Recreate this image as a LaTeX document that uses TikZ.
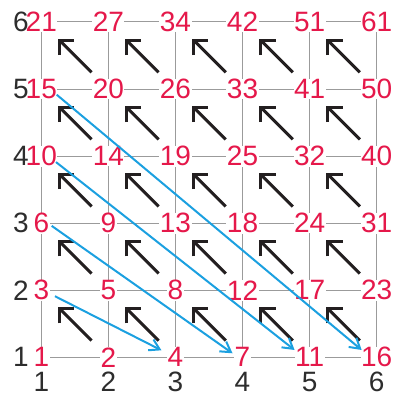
\documentclass[tikz,border=0pt]{standalone}
\usepackage{fontspec}
\setmainfont{Liberation Sans}
\usetikzlibrary{arrows.meta,calc}
\definecolor{numred}{RGB}{229,24,74}
\definecolor{arrowblue}{RGB}{27,160,224}
\definecolor{gridgray}{RGB}{155,155,155}
\definecolor{axisgray}{RGB}{45,45,45}
\definecolor{arrowblack}{RGB}{35,31,32}
\begin{document}
\begin{tikzpicture}[x=1pt,y=1pt,
  gridline/.style={draw=gridgray,line width=1pt},
  val/.style={text=numred,fill=white,inner sep=0.5pt,font=\fontsize{28}{28}\selectfont},
  axislabel/.style={text=axisgray,inner sep=0pt,font=\fontsize{28}{28}\selectfont},
  diagarrow/.style={draw=arrowblack,line width=3pt,-{Straight Barb[length=10.5pt,width=21pt]}},
  bluearrow/.style={draw=arrowblue,line width=2pt,-{Straight Barb[length=10pt,width=12pt]}}]
\useasboundingbox (0,0) rectangle (395,394);
\foreach \i in {1,...,6} {
  \foreach \j in {1,...,6} {
    \coordinate (p-\i-\j) at ({41.3+67.07*(\i-1)},{36.7+67.07*(\j-1)});
  }
}
% grid
\foreach \i in {1,...,6} {
  \draw[gridline] (p-\i-1) -- (p-\i-6);
  \draw[gridline] (p-1-\i) -- (p-6-\i);
}
% black diagonal arrows
\foreach \i in {1,...,5} {
  \foreach \j in {1,...,5} {
    \coordinate (t-\i-\j) at ($(p-\i-\j)+(50.3,16.7)$);
    \coordinate (h-\i-\j) at ($(p-\i-\j)+(16.7,50.3)$);
    \draw[diagarrow] (t-\i-\j) -- (h-\i-\j);
  }
}
% values
\foreach \i/\j/\v in {1/1/1,2/1/2,3/1/4,4/1/7,5/1/11,6/1/16,
  1/2/3,2/2/5,3/2/8,4/2/12,5/2/17,6/2/23,
  1/3/6,2/3/9,3/3/13,4/3/18,5/3/24,6/3/31,
  1/4/10,2/4/14,3/4/19,4/4/25,5/4/32,6/4/40,
  1/5/15,2/5/20,3/5/26,4/5/33,5/5/41,6/5/50,
  1/6/21,2/6/27,3/6/34,4/6/42,5/6/51,6/6/61} {
  \node[val] (n-\i-\j) at (p-\i-\j) {\v};
}
% axis labels
\foreach \k in {1,...,6} {
  \node[axislabel] (ax-\k) at ($(p-\k-1)+(0,-24.7)$) {\k};
  \node[axislabel] (ay-\k) at ($(p-1-\k)+(-20.3,0)$) {\k};
}
% blue arrows
\draw[bluearrow] ([shift={(13.7,-6)}]p-1-2) -- ([shift={(-14,7)}]p-3-1);
\draw[bluearrow] ([shift={(10.4,-2.7)}]p-1-3) -- ([shift={(-10,4)}]p-4-1);
\draw[bluearrow] ([shift={(14.7,-6)}]p-1-4) -- ([shift={(-15,7.3)}]p-5-1);
\draw[bluearrow] ([shift={(15.4,-5.7)}]p-1-5) -- ([shift={(-15,7.3)}]p-6-1);
\end{tikzpicture}
\end{document}
